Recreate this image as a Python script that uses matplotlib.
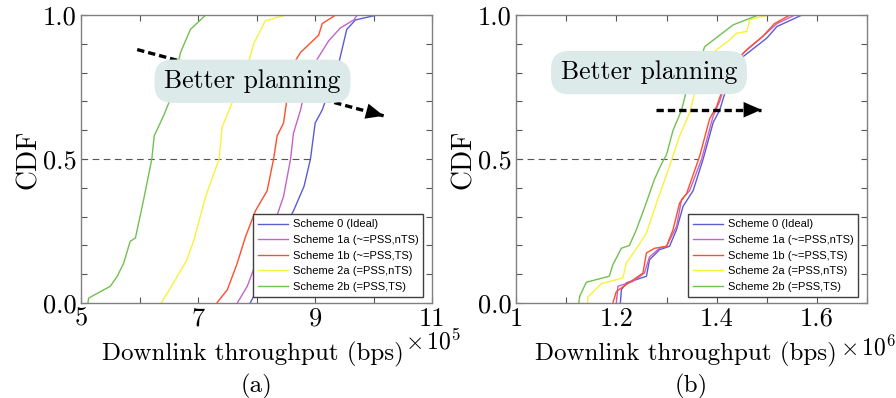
import numpy as np
import matplotlib
matplotlib.use('Agg')
import matplotlib.pyplot as plt

plt.rcParams['font.family'] = 'serif'
plt.rcParams['font.serif'] = ['cmr10']
plt.rcParams['mathtext.fontset'] = 'cm'
plt.rcParams['axes.formatter.use_mathtext'] = True

labels = ['Scheme 0 (Ideal)', 'Scheme 1a (~=PSS,nTS)', 'Scheme 1b (~=PSS,TS)',
          'Scheme 2a (=PSS,nTS)', 'Scheme 2b (=PSS,TS)']
colors = ['#5c5cd2', '#c464c8', '#ff4e2e', '#f8f23a', '#72c052']

# panel (a), throughput in units of 1e5 bps
a_s0_x = [7.89, 7.98, 8.18, 8.41, 8.63, 8.81, 8.92, 9.00, 9.12, 9.40, 9.54, 9.69, 10.06]
a_s0_y = [0.0, 0.035, 0.127, 0.24, 0.32, 0.405, 0.5, 0.625, 0.67, 0.83, 0.95, 0.983, 1.0]
a_s1a_x = [7.67, 7.84, 8.01, 8.24, 8.46, 8.58, 8.63, 8.75, 8.83, 9.03, 9.23, 9.43, 9.66, 9.72]
a_s1a_y = [0.0, 0.058, 0.15, 0.24, 0.37, 0.5, 0.59, 0.67, 0.74, 0.845, 0.91, 0.955, 0.983, 1.0]
a_s1b_x = [7.32, 7.50, 7.67, 7.81, 7.98, 8.18, 8.29, 8.35, 8.46, 8.52, 8.66, 8.75, 9.06, 9.12, 9.35]
a_s1b_y = [0.0, 0.046, 0.139, 0.23, 0.32, 0.39, 0.5, 0.58, 0.625, 0.71, 0.84, 0.87, 0.93, 0.97, 1.0]
a_s2a_x = [6.37, 6.58, 6.81, 6.93, 7.13, 7.27, 7.36, 7.41, 7.61, 7.84, 7.95, 8.15, 8.49]
a_s2a_y = [0.0, 0.07, 0.15, 0.22, 0.37, 0.45, 0.5, 0.61, 0.71, 0.82, 0.90, 0.98, 1.0]
a_s2b_x = [5.12, 5.13, 5.50, 5.62, 5.73, 5.84, 5.93, 6.07, 6.21, 6.25, 6.41, 6.53, 6.70, 6.87, 7.13]
a_s2b_y = [0.0, 0.017, 0.058, 0.093, 0.139, 0.214, 0.226, 0.359, 0.5, 0.58, 0.65, 0.71, 0.87, 0.95, 1.0]

# panel (b), throughput in units of 1e6 bps
b_s0_x = [1.208, 1.21, 1.22, 1.26, 1.266, 1.286, 1.306, 1.32, 1.333, 1.353, 1.373, 1.393, 1.406,
          1.42, 1.453, 1.50, 1.52, 1.57]
b_s0_y = [0.0, 0.046, 0.07, 0.093, 0.15, 0.185, 0.197, 0.255, 0.336, 0.39, 0.5, 0.627, 0.67,
          0.75, 0.856, 0.92, 0.96, 1.0]
b_s1a_x = [1.20, 1.203, 1.233, 1.256, 1.266, 1.286, 1.30, 1.32, 1.33, 1.346, 1.37, 1.393, 1.406,
           1.42, 1.453, 1.492, 1.52, 1.556]
b_s1a_y = [0.0, 0.058, 0.075, 0.104, 0.16, 0.19, 0.197, 0.266, 0.36, 0.39, 0.5, 0.65, 0.70,
           0.78, 0.868, 0.926, 0.97, 1.0]
b_s1b_x = [1.193, 1.20, 1.22, 1.253, 1.26, 1.276, 1.30, 1.313, 1.326, 1.34, 1.366, 1.386, 1.40,
           1.416, 1.45, 1.46, 1.492, 1.515, 1.546]
b_s1b_y = [0.0, 0.04, 0.064, 0.104, 0.174, 0.19, 0.197, 0.255, 0.347, 0.38, 0.51, 0.64, 0.683,
           0.764, 0.862, 0.88, 0.926, 0.97, 1.0]
b_s2a_x = [1.143, 1.143, 1.17, 1.213, 1.22, 1.243, 1.26, 1.28, 1.306, 1.326, 1.346, 1.356, 1.373,
           1.393, 1.426, 1.44, 1.46, 1.466, 1.503]
b_s2a_y = [0.0, 0.02, 0.067, 0.087, 0.139, 0.197, 0.243, 0.347, 0.475, 0.58, 0.66, 0.73, 0.83,
           0.87, 0.914, 0.937, 0.943, 0.984, 1.0]
b_s2b_x = [1.125, 1.127, 1.14, 1.186, 1.193, 1.21, 1.226, 1.24, 1.26, 1.276, 1.292, 1.30, 1.313,
           1.33, 1.34, 1.356, 1.373, 1.376, 1.433, 1.483]
b_s2b_y = [0.0, 0.023, 0.072, 0.093, 0.133, 0.19, 0.20, 0.255, 0.35, 0.43, 0.49, 0.515, 0.60,
           0.67, 0.74, 0.79, 0.874, 0.89, 0.966, 1.0]

a_curves = [(a_s0_x, a_s0_y), (a_s1a_x, a_s1a_y), (a_s1b_x, a_s1b_y), (a_s2a_x, a_s2a_y), (a_s2b_x, a_s2b_y)]
b_curves = [(b_s0_x, b_s0_y), (b_s1a_x, b_s1a_y), (b_s1b_x, b_s1b_y), (b_s2a_x, b_s2a_y), (b_s2b_x, b_s2b_y)]

a_xticks = [5, 6, 7, 8, 9, 10, 11]
a_xticklabels = ['5', '', '7', '', '9', '', '11']
b_xticks = [1.0, 1.1, 1.2, 1.3, 1.4, 1.5, 1.6, 1.7]
b_xticklabels = ['1', '', '1.2', '', '1.4', '', '1.6', '']
yticks = np.round(np.arange(0, 1.01, 0.1), 1)
yticklabels = ['0.0', '', '', '', '', '0.5', '', '', '', '', '1.0']


def draw_panel(ax, curves, xlim, xticks, xticklabels, median_end, exp, tag, label_x, exp_y):
    for (x, y), c, lab in zip(curves, colors, labels):
        ax.plot(x, y, color=c, lw=1.0, label=lab, zorder=2)
    ax.plot([xlim[0], median_end], [0.5, 0.5], color='#555555', lw=0.8,
            linestyle=(0, (6, 4)), zorder=1)
    ax.set_xlim(xlim)
    ax.set_ylim(0, 1)
    ax.set_xticks(xticks)
    ax.set_xticklabels(xticklabels)
    ax.set_yticks(yticks)
    ax.set_yticklabels(yticklabels)
    ax.tick_params(direction='in', length=4, width=0.8, color='#555555', labelsize=19,
                   top=True, right=True, pad=3)
    for sp in ax.spines.values():
        sp.set_color('#808080')
        sp.set_linewidth(1.0)
    ax.set_ylabel('CDF', fontsize=20, labelpad=1)
    ax.set_xlabel('Downlink throughput (bps)', fontsize=18)
    ax.xaxis.set_label_coords(label_x, -0.135)
    ax.text(0.922, exp_y, r'$\times\,10^{%d}$' % exp, transform=ax.transAxes,
            fontsize=17, ha='left', va='center')
    ax.text(0.5, -0.29, tag, transform=ax.transAxes, fontsize=18, ha='center', va='center')
    leg = ax.legend(loc='lower right', bbox_to_anchor=(0.975, 0.022), borderaxespad=0,
                    prop={'family': 'Liberation Sans', 'size': 8}, frameon=True, fancybox=False,
                    handlelength=2.7, handletextpad=0.4, labelspacing=0.5, borderpad=0.45)
    leg.get_frame().set_edgecolor('#404040')
    leg.get_frame().set_linewidth(1.0)
    leg.get_frame().set_alpha(1)


def dashed_arrow(ax, start, end):
    ax.plot([start[0], end[0]], [start[1], end[1]], color='k', lw=2.4,
            linestyle=(0, (2.2, 1.2)), zorder=3)
    ax.annotate('', xy=end, xytext=start,
                arrowprops=dict(arrowstyle='-|>,head_length=0.8,head_width=0.35', color='k',
                                lw=0, shrinkA=0, shrinkB=0, mutation_scale=16), zorder=3)


fig = plt.figure(figsize=(8.96, 3.98), dpi=100)
ax1 = fig.add_axes([0.0904, 0.2387, 0.392, 0.7236])
ax2 = fig.add_axes([0.5759, 0.2387, 0.392, 0.7236])

draw_panel(ax1, a_curves, (5, 11), a_xticks, a_xticklabels, 8.92, 5, '(a)', 0.49, -0.133)
draw_panel(ax2, b_curves, (1.0, 1.7), b_xticks, b_xticklabels, 1.362, 6, '(b)', 0.485, -0.155)

box = dict(boxstyle='round,pad=0.38,rounding_size=0.7', fc='#dceaea', ec='none')
dashed_arrow(ax1, (5.96, 0.88), (10.17, 0.65))
ax1.text(7.93, 0.77, 'Better planning', fontsize=18.5, ha='center', va='center', bbox=box, zorder=4)
dashed_arrow(ax2, (1.28, 0.671), (1.489, 0.671))
ax2.text(1.265, 0.80, 'Better planning', fontsize=18.5, ha='center', va='center', bbox=box, zorder=4)

fig.savefig('out.png', dpi=100)
